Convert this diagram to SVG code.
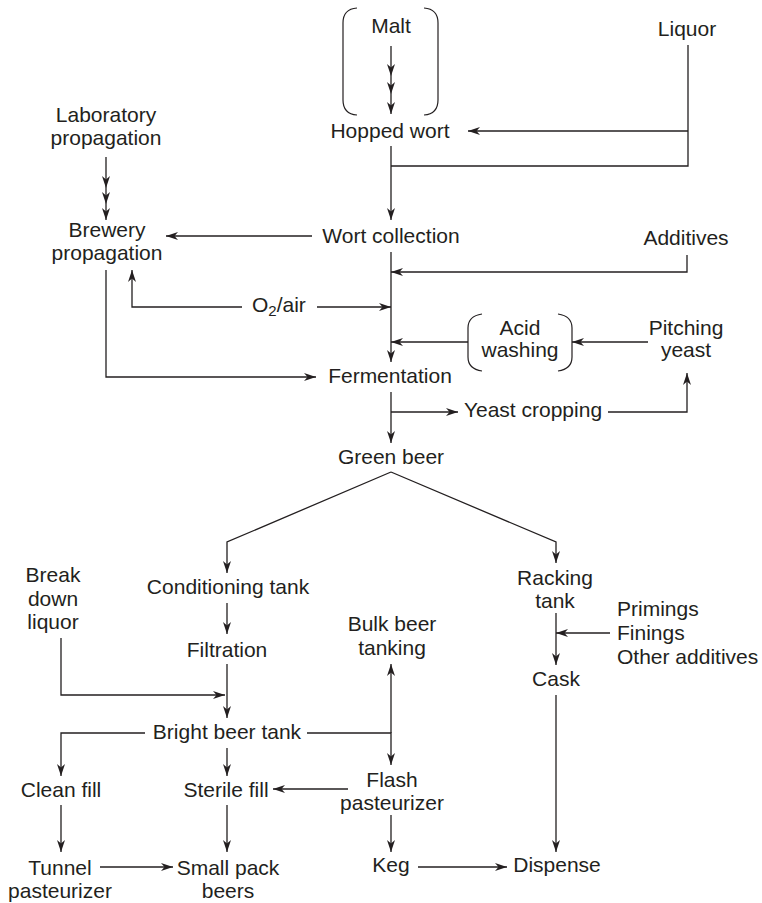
<svg xmlns="http://www.w3.org/2000/svg" width="762" height="903" viewBox="0 0 762 903">
<style>
text{font-family:"Liberation Sans",Arial,sans-serif;font-size:21px;fill:#231f20;text-anchor:middle}
.l{text-anchor:start}
.c{fill:none;stroke:#231f20;stroke-width:1.3}
.a{marker-end:url(#ah)}
.m{marker-mid:url(#ah);marker-end:url(#ah)}
.br{fill:none;stroke:#231f20;stroke-width:1.2}
</style>
<defs>
<marker id="ah" markerUnits="userSpaceOnUse" viewBox="0 0 12 8" markerWidth="12" markerHeight="8" refX="12" refY="4" orient="auto">
<path d="M0,0 L12,4 L0,8 L3.5,4 Z" fill="#231f20"/>
</marker>
</defs>
<rect width="762" height="903" fill="#fff"/>
<g id="connectors">
<polyline class="c m" points="391,46 391,76 391,94 391,114"/>
<path class="c" d="M688,45 V166 H391"/>
<path class="c a" d="M688,131 H468"/>
<path class="c a" d="M391,146 V220"/>
<path class="c a" d="M312,236 H166"/>
<polyline class="c m" points="106,157 106,188 106,204 106,220"/>
<path class="c a" d="M391,252 V362"/>
<path class="c a" d="M687,255 V272 H391"/>
<path class="c a" d="M317,307 H391"/>
<path class="c a" d="M242,307 H132 V270"/>
<path class="c a" d="M468,342 H391"/>
<path class="c a" d="M648,342 H572"/>
<path class="c a" d="M106,270 V377 H316"/>
<path class="c a" d="M391,392 V443"/>
<path class="c a" d="M391,412 H458"/>
<path class="c a" d="M608,412 H687 V373"/>
<path class="c a" d="M391,472 L227,542 V573"/>
<path class="c a" d="M391,472 L556,542 V563"/>
<path class="c a" d="M227,603 V634"/>
<path class="c a" d="M61,638 V695 H225"/>
<path class="c a" d="M227,664 V718"/>
<path class="c a" d="M556,613 V665"/>
<path class="c a" d="M610,633 H556"/>
<path class="c a" d="M556,695 V852"/>
<path class="c a" d="M145,733 H61 V776"/>
<path class="c a" d="M307,733 H391 V765"/>
<path class="c a" d="M391,733 V664"/>
<path class="c a" d="M227,748 V776"/>
<path class="c a" d="M348,789 H273"/>
<path class="c a" d="M61,805 V852"/>
<path class="c a" d="M227,805 V852"/>
<path class="c a" d="M391,815 V852"/>
<path class="c a" d="M100,867 H173"/>
<path class="c a" d="M418,867 H507"/>
</g>
<g id="malt">
<path class="br" d="M357,8 Q343,9 343,23 V100 Q343,114 357,115"/>
<path class="br" d="M424,8 Q438,9 438,23 V100 Q438,114 424,115"/>
<text x="391" y="33">Malt</text>
</g>
<g id="liquor"><text x="687" y="36">Liquor</text></g>
<g id="hopped-wort"><text x="390" y="138">Hopped wort</text></g>
<g id="lab-propagation"><text x="106" y="122">Laboratory</text><text x="106" y="145">propagation</text></g>
<g id="brewery-propagation"><text x="107" y="237">Brewery</text><text x="107" y="260">propagation</text></g>
<g id="wort-collection"><text x="391" y="243">Wort collection</text></g>
<g id="additives"><text x="686" y="245">Additives</text></g>
<g id="o2-air"><text class="l" x="252" y="312">O<tspan font-size="15" dy="4">2</tspan><tspan dy="-4">/air</tspan></text></g>
<g id="acid-washing">
<path class="br" d="M482,314 Q468,316 468,328 V357 Q468,369 482,371"/>
<path class="br" d="M558,314 Q572,316 572,328 V357 Q572,369 558,371"/>
<text x="520" y="335">Acid</text><text x="520" y="357">washing</text>
</g>
<g id="pitching-yeast"><text x="686" y="335">Pitching</text><text x="686" y="357">yeast</text></g>
<g id="fermentation"><text x="390" y="383">Fermentation</text></g>
<g id="yeast-cropping"><text x="533" y="417">Yeast cropping</text></g>
<g id="green-beer"><text x="391" y="464">Green beer</text></g>
<g id="conditioning-tank"><text x="228" y="594">Conditioning tank</text></g>
<g id="racking-tank"><text x="555" y="585">Racking</text><text x="555" y="608">tank</text></g>
<g id="break-down-liquor"><text x="53" y="582">Break</text><text x="53" y="606">down</text><text x="53" y="629">liquor</text></g>
<g id="filtration"><text x="227" y="657">Filtration</text></g>
<g id="bulk-beer-tanking"><text x="392" y="631">Bulk beer</text><text x="392" y="655">tanking</text></g>
<g id="additions"><text class="l" x="617" y="616">Primings</text><text class="l" x="617" y="640">Finings</text><text class="l" x="617" y="664">Other additives</text></g>
<g id="cask"><text x="556" y="686">Cask</text></g>
<g id="bright-beer-tank"><text x="227" y="739">Bright beer tank</text></g>
<g id="clean-fill"><text x="61" y="797">Clean fill</text></g>
<g id="sterile-fill"><text x="226" y="797">Sterile fill</text></g>
<g id="flash-pasteurizer"><text x="392" y="787">Flash</text><text x="392" y="810">pasteurizer</text></g>
<g id="tunnel-pasteurizer"><text x="60" y="875">Tunnel</text><text x="60" y="898">pasteurizer</text></g>
<g id="small-pack-beers"><text x="228" y="875">Small pack</text><text x="228" y="898">beers</text></g>
<g id="keg"><text x="391" y="872">Keg</text></g>
<g id="dispense"><text x="557" y="872">Dispense</text></g>
</svg>
